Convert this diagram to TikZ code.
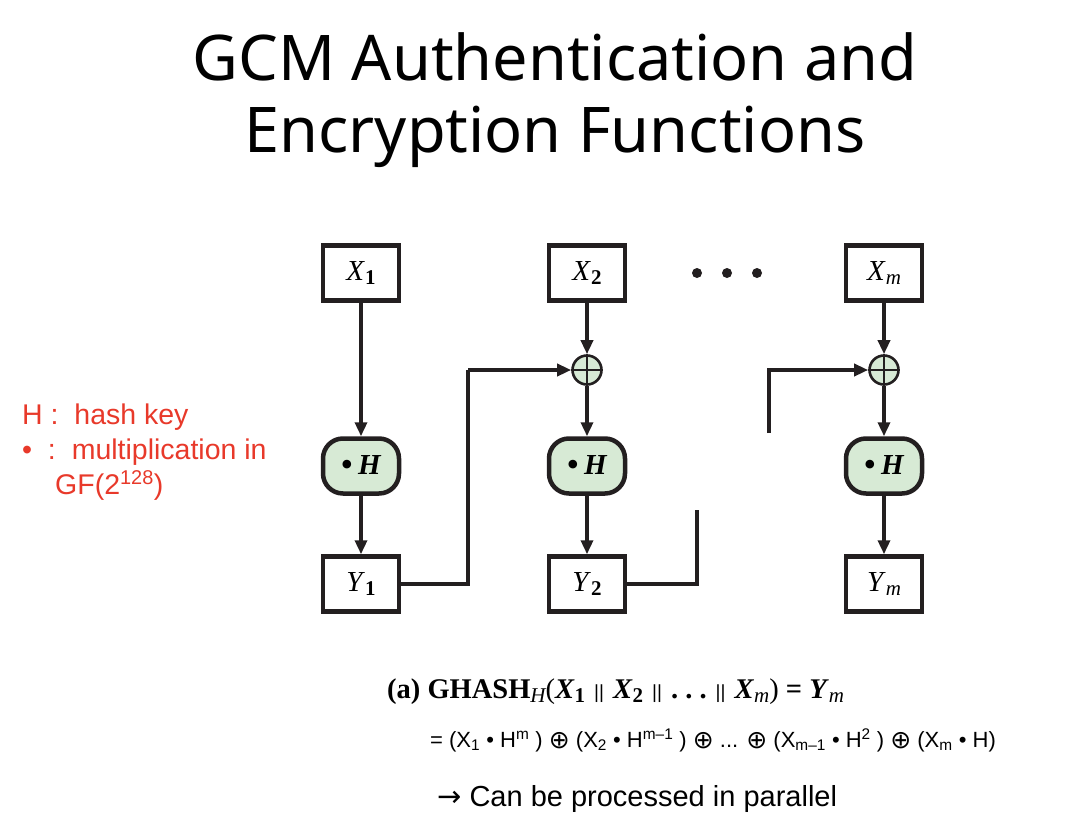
\documentclass[tikz,border=0pt]{standalone}
\usepackage{fontspec}
\setmainfont{Liberation Serif}
\newfontfamily\slidefont{Noto Sans}
\newfontfamily\arialfont{Liberation Sans}
\newfontfamily\symfont{DejaVu Sans}
\usetikzlibrary{arrows.meta}
\definecolor{boxgreen}{HTML}{D7EAD5}
\definecolor{notered}{HTML}{E8392A}
\definecolor{inkblack}{HTML}{231F20}
% lowered index in the figure font
\newcommand{\lowidx}[1]{\raisebox{-0.35ex}{\fontsize{21}{21}\selectfont #1}}
% thin double bar of the formula
\newcommand{\catbar}{\hspace{9pt}{\arialfont\fontsize{19}{19}\selectfont ||}\hspace{9pt}}
% xor sign of the expansion
\newcommand{\xorsign}{{\symfont\fontsize{25}{25}\selectfont\raisebox{-0.08ex}{⊕}}}
\begin{document}
\begin{tikzpicture}[x=1pt, y=-1pt,
  block/.style={draw=inkblack, line width=4.5pt, minimum width=76pt, minimum height=55pt, inner sep=0pt, font=\fontsize{29}{29}\selectfont},
  mult/.style={block, fill=boxgreen, rounded corners=20pt},
  xorop/.style={circle, draw=inkblack, line width=2.6pt, fill=boxgreen, minimum size=29pt, inner sep=0pt},
  flow/.style={draw=inkblack, line width=3.4pt, -{Triangle[length=14pt, width=12pt]}},
  wire/.style={draw=inkblack, line width=3.4pt}]
\useasboundingbox (0,0) rectangle (1082,828);

% Title
\node[anchor=base, inner sep=0pt, font=\slidefont\fontsize{63}{63}\selectfont] (title1) at (555,80) {GCM Authentication and};
\node[anchor=base, inner sep=0pt, font=\slidefont\fontsize{63}{63}\selectfont] (title2) at (555,152) {Encryption Functions};

% Side notes
\node[anchor=base west, inner sep=0pt, text=notered, font=\arialfont\fontsize{28.5}{28.5}\selectfont] (noteH) at (22,424) {H :\ \ hash key};
\node[anchor=base west, inner sep=0pt, text=notered, font=\arialfont\fontsize{28.5}{28.5}\selectfont] (noteDot) at (22,459) {•\ \ :\ \ multiplication in};
\node[anchor=base west, inner sep=0pt, text=notered, font=\arialfont\fontsize{28.5}{28.5}\selectfont] (noteGF) at (55,494) {GF(2\textsuperscript{128})};

% Inputs
\node[block] (X1) at (361,273) {\textit{X}\lowidx{\bfseries 1}};
\node[block] (X2) at (587,273) {\textit{X}\lowidx{\bfseries 2}};
\node[block] (Xm) at (884,273) {\textit{X}\lowidx{\itshape m}};

% XOR
\node[xorop] (xor2) at (587,370) {};
\node[xorop] (xorm) at (884,370) {};
\draw[inkblack, line width=2.6pt] (xor2.north) -- (xor2.south) (xor2.west) -- (xor2.east);
\draw[inkblack, line width=2.6pt] (xorm.north) -- (xorm.south) (xorm.west) -- (xorm.east);

% Multiply by H
\node[mult] (H1) at (361,466) {{\fontsize{36}{36}\selectfont\raisebox{-0.12ex}{•}}\,\textbf{\textit{H}}};
\node[mult] (H2) at (587,466) {{\fontsize{36}{36}\selectfont\raisebox{-0.12ex}{•}}\,\textbf{\textit{H}}};
\node[mult] (Hm) at (884,466) {{\fontsize{36}{36}\selectfont\raisebox{-0.12ex}{•}}\,\textbf{\textit{H}}};

% Outputs
\node[block] (Y1) at (361,584) {\textit{Y}\lowidx{\bfseries 1}};
\node[block] (Y2) at (587,584) {\textit{Y}\lowidx{\bfseries 2}};
\node[block] (Ym) at (884,584) {\textit{Y}\lowidx{\itshape m}};

% Dots
\fill[inkblack] (697,273) circle (5pt) (727,273) circle (5pt) (757,273) circle (5pt);

% Arrows
\draw[flow] (X1) -- (H1);
\draw[flow] (H1) -- (Y1);
\draw[flow] (X2) -- (xor2);
\draw[flow] (xor2) -- (H2);
\draw[flow] (H2) -- (Y2);
\draw[flow] (Xm) -- (xorm);
\draw[flow] (xorm) -- (Hm);
\draw[flow] (Hm) -- (Ym);

% Chaining
\coordinate (bend1) at (468,370);
\coordinate (cut2) at (697,510);
\coordinate (cutm) at (769,433);
\draw[wire] (Y1.east) -| (bend1);
\draw[flow] (bend1) -- (xor2.west);
\draw[wire] (Y2.east) -| (cut2);
\draw[flow] (cutm) |- (xorm.west);

% Formula
\node[anchor=base west, inner sep=0pt, font=\fontsize{28.5}{28.5}\selectfont] (ghash) at (387,698)
  {\textbf{(a) GHASH}\lowidx{\itshape H}(\textbf{\textit{X}}\lowidx{\bfseries 1}\catbar\textbf{\textit{X}}\lowidx{\bfseries 2}\catbar\textbf{.\ .\ .}\catbar\textbf{\textit{X}}\lowidx{\itshape m}) \textbf{=} \textbf{\textit{Y}}\lowidx{\itshape m}};
\node[anchor=base west, inner sep=0pt, font=\arialfont\fontsize{22}{22}\selectfont] (expand) at (430,747)
  {= (X\textsubscript{1} • H\textsuperscript{m} ) \xorsign{} (X\textsubscript{2} • H\textsuperscript{m–1} ) \xorsign{} ... \xorsign{} (X\textsubscript{m–1} • H\textsuperscript{2} ) \xorsign{} (X\textsubscript{m} • H)};
\node[anchor=base west, inner sep=0pt, font=\arialfont\fontsize{29}{29}\selectfont] (parallel) at (437,806)
  {{\symfont →} Can be processed in parallel};
\end{tikzpicture}
\end{document}
